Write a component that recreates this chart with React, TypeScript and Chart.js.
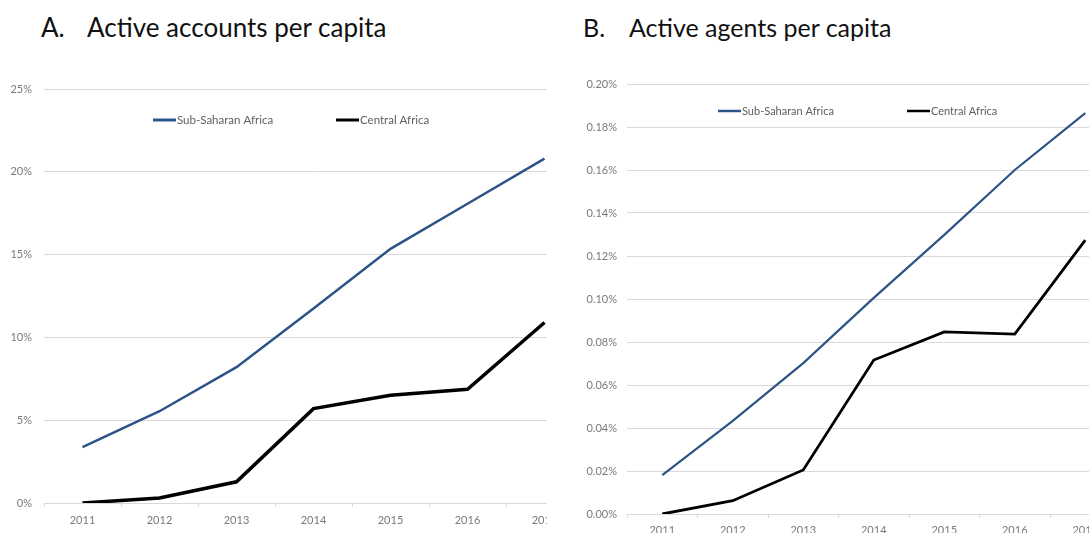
import React, { useEffect, useRef } from 'react';
import { Chart, registerables } from 'chart.js';

Chart.register(...registerables);

const years = ['2011', '2012', '2013', '2014', '2015', '2016', '2017'];
const seriesNames = ['Sub-Saharan Africa', 'Central Africa'];
const accountsSSA = [3.37, 5.54, 8.2, 11.75, 15.35, 18.07, 20.8];
const accountsCentral = [0, 0.3, 1.28, 5.7, 6.5, 6.87, 10.9];
const agentsSSA = [0.0181, 0.0433, 0.0702, 0.1005, 0.1298, 0.16, 0.1865];
const agentsCentral = [0, 0.0062, 0.0205, 0.0716, 0.0847, 0.0837, 0.1274];
const accountsAxis = { min: 0, max: 25, step: 5, decimals: 0 };
const agentsAxis = { min: 0, max: 0.2, step: 0.02, decimals: 2 };

const BLUE = '#2c5487';
const BLACK = '#000000';
const FONT = 'Lato, "Open Sans", sans-serif';

const inlineLegend = {
  id: 'inlineLegend',
  afterDraw(chart: any, _args: any, opts: any) {
    const { ctx, chartArea } = chart;
    ctx.save();
    opts.items.forEach((xOff: number, i: number) => {
      const ds = chart.data.datasets[i];
      const x = chartArea.left + xOff;
      const y = chartArea.top + opts.dy;
      ctx.strokeStyle = ds.borderColor;
      ctx.lineWidth = opts.lineWidth;
      ctx.beginPath();
      ctx.moveTo(x, y);
      ctx.lineTo(x + opts.sample, y);
      ctx.stroke();
      ctx.fillStyle = opts.color;
      ctx.font = `${opts.size}px ${FONT}`;
      ctx.textBaseline = 'middle';
      ctx.textAlign = 'left';
      ctx.fillText(ds.label, x + opts.sample + 1, y + 0.5);
    });
    ctx.restore();
  },
};

type PanelProps = {
  left: number;
  width: number;
  letter: string;
  title: string;
  letterX: number;
  titleX: number;
  titleSize: number;
  canvasW: number;
  canvasH: number;
  yWidth: number;
  xHeight: number;
  padTop: number;
  padRight: number;
  axis: { min: number; max: number; step: number; decimals: number };
  ssa: number[];
  central: number[];
  tickSize: number;
  tickPad: number;
  xPad: number;
  lw: [number, number];
  legend: { items: number[]; dy: number; size: number; sample: number; lineWidth: number };
};

function Panel(p: PanelProps) {
  const ref = useRef<HTMLCanvasElement | null>(null);
  useEffect(() => {
    if (!ref.current) return;
    const chart = new Chart(ref.current, {
      type: 'line',
      data: {
        labels: years,
        datasets: [
          {
            label: seriesNames[0],
            data: p.ssa,
            borderColor: BLUE,
            backgroundColor: BLUE,
            borderWidth: p.lw[0],
            pointRadius: 0,
            tension: 0,
            fill: false,
          },
          {
            label: seriesNames[1],
            data: p.central,
            borderColor: BLACK,
            backgroundColor: BLACK,
            borderWidth: p.lw[1],
            pointRadius: 0,
            tension: 0,
            fill: false,
          },
        ],
      },
      options: {
        animation: false,
        responsive: false,
        maintainAspectRatio: false,
        layout: { padding: { top: p.padTop, right: p.padRight, left: 0, bottom: 0 } },
        plugins: {
          legend: { display: false },
          tooltip: { enabled: false },
          inlineLegend: { ...p.legend, color: '#606060' },
        } as any,
        scales: {
          x: {
            type: 'category',
            offset: true,
            grid: {
              display: true,
              drawOnChartArea: false,
              drawTicks: true,
              tickLength: 4,
              offset: true,
              color: '#d9d9d9',
            },
            border: { display: true, color: '#d9d9d9' },
            ticks: {
              color: '#7a7a7a',
              font: { family: FONT, size: p.tickSize },
              padding: p.xPad,
              maxRotation: 0,
              autoSkip: false,
            },
            afterFit: (s: any) => {
              s.height = p.xHeight;
            },
          },
          y: {
            min: p.axis.min,
            max: p.axis.max,
            grid: { color: '#d9d9d9', drawTicks: false, lineWidth: 1 },
            border: { display: false },
            ticks: {
              stepSize: p.axis.step,
              color: '#7a7a7a',
              font: { family: FONT, size: p.tickSize },
              padding: p.tickPad,
              callback: (v: any) => Number(v).toFixed(p.axis.decimals) + '%',
            },
            afterFit: (s: any) => {
              s.width = p.yWidth;
            },
          },
        },
      },
      plugins: [inlineLegend],
    });
    return () => chart.destroy();
  }, []);

  const titleStyle: React.CSSProperties = {
    position: 'absolute',
    top: 12,
    fontFamily: FONT,
    fontSize: p.titleSize,
    lineHeight: '30px',
    color: '#111',
    whiteSpace: 'nowrap',
  };

  return (
    <div
      style={{
        position: 'absolute',
        left: p.left,
        top: 0,
        width: p.width,
        height: 533,
        overflow: 'hidden',
        background: '#fff',
      }}
    >
      <span style={{ ...titleStyle, left: p.letterX }}>{p.letter}</span>
      <span style={{ ...titleStyle, left: p.titleX }}>{p.title}</span>
      <canvas
        ref={ref}
        width={p.canvasW}
        height={p.canvasH}
        style={{ position: 'absolute', left: 0, top: 0, width: p.canvasW, height: p.canvasH }}
      />
    </div>
  );
}

export default function App() {
  return (
    <div
      style={{
        position: 'fixed',
        left: 0,
        top: 0,
        width: 1089,
        height: 533,
        background: '#fff',
        overflow: 'hidden',
      }}
    >
      <Panel
        left={0}
        width={547}
        letter="A."
        title="Active accounts per capita"
        letterX={41}
        titleX={87}
        titleSize={26}
        canvasW={600}
        canvasH={533}
        yWidth={44}
        xHeight={30}
        padTop={89}
        padRight={17}
        axis={accountsAxis}
        ssa={accountsSSA}
        central={accountsCentral}
        tickSize={11}
        tickPad={12}
        xPad={7}
        lw={[2.5, 3.5]}
        legend={{ items: [109, 292], dy: 31, size: 11.5, sample: 23, lineWidth: 3 }}
      />
      <Panel
        left={547}
        width={542}
        letter="B."
        title="Active agents per capita"
        letterX={36}
        titleX={82}
        titleSize={25}
        canvasW={590}
        canvasH={560}
        yWidth={80}
        xHeight={46}
        padTop={84}
        padRight={16.5}
        axis={agentsAxis}
        ssa={agentsSSA}
        central={agentsCentral}
        tickSize={11}
        tickPad={10}
        xPad={6}
        lw={[2.2, 2.8]}
        legend={{ items: [91, 280], dy: 27, size: 11, sample: 23, lineWidth: 2.5 }}
      />
    </div>
  );
}
